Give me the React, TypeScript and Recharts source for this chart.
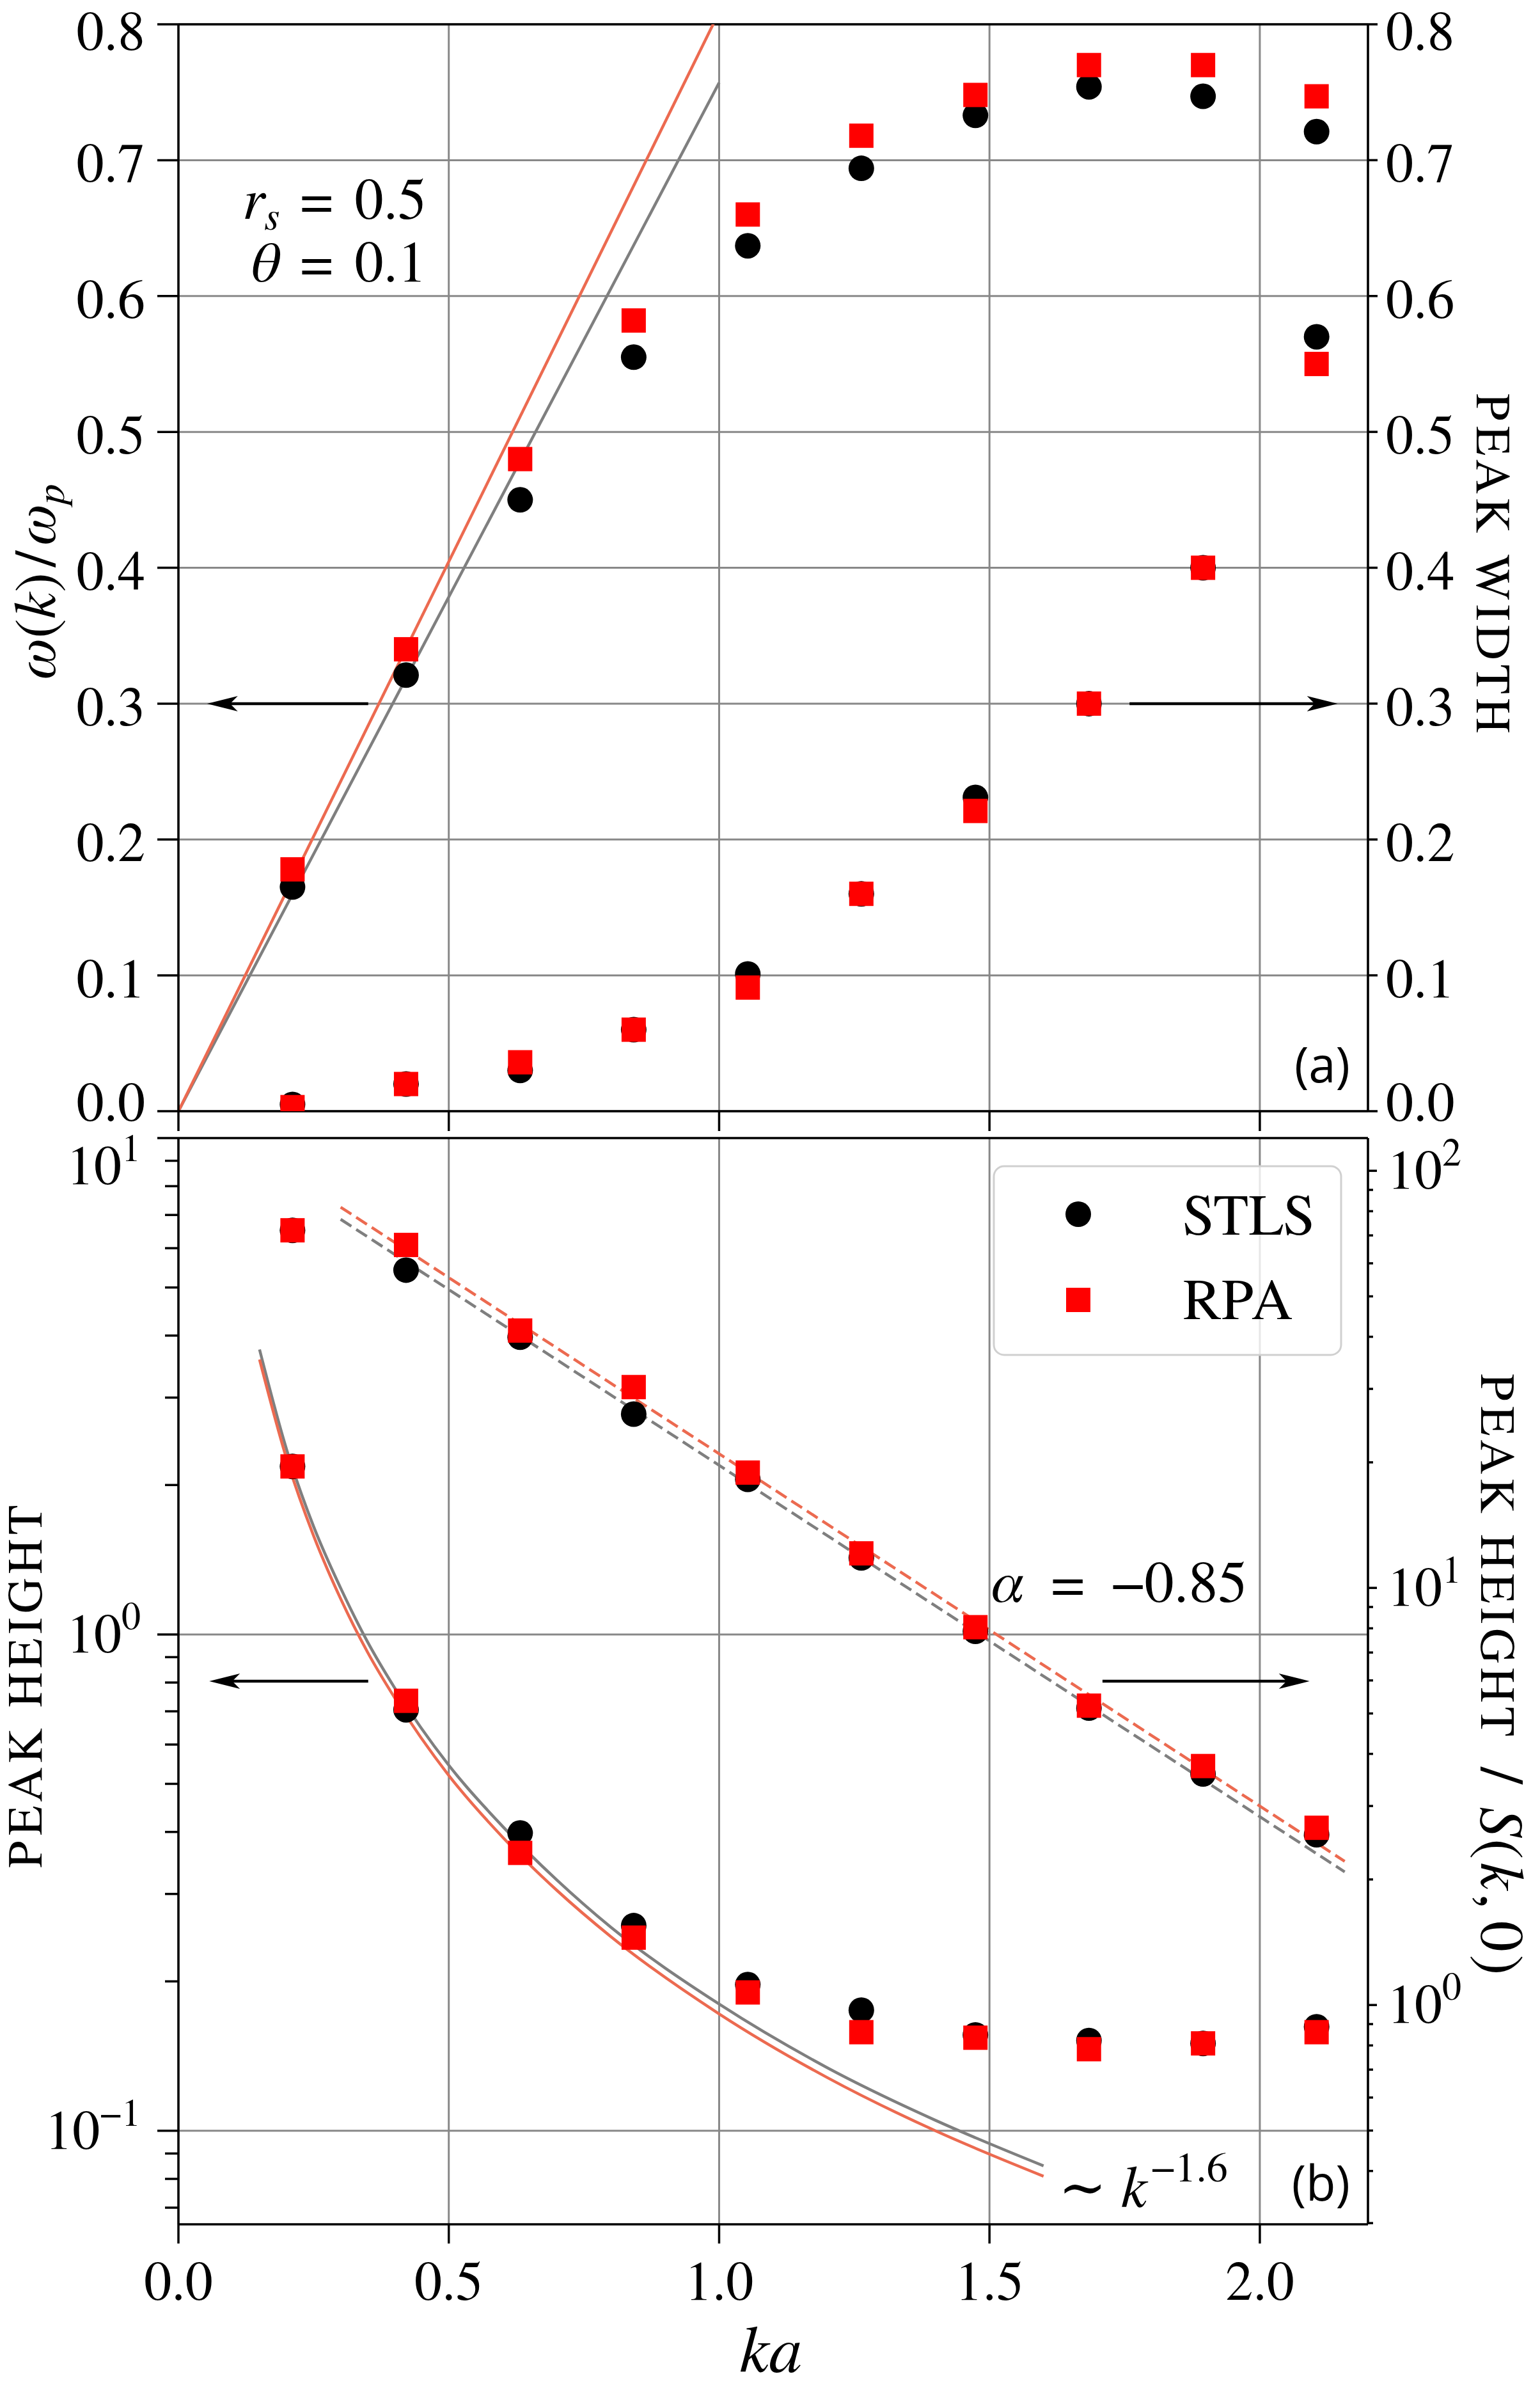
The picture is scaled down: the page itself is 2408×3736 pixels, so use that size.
import React from "react";
import {
  ComposedChart,
  Scatter,
  Line,
  XAxis,
  YAxis,
  CartesianGrid,
  ReferenceLine,
} from "recharts";

// ka of the ten simulated wave numbers (shared by all marker series)
const KA = [0.211, 0.421, 0.632, 0.842, 1.053, 1.263, 1.474, 1.684, 1.895, 2.105];

// panel (a): peak position w(k)/wp (left axis) and peak width (right axis)
const STLS_FREQ = [0.165, 0.321, 0.45, 0.555, 0.637, 0.694, 0.733, 0.754, 0.747, 0.721];
const RPA_FREQ = [0.178, 0.34, 0.48, 0.582, 0.66, 0.718, 0.748, 0.77, 0.77, 0.747];
const STLS_WIDTH = [0.005, 0.02, 0.03, 0.06, 0.101, 0.16, 0.231, 0.3, 0.4, 0.57];
const RPA_WIDTH = [0.003, 0.02, 0.036, 0.06, 0.091, 0.16, 0.221, 0.3, 0.4, 0.55];

// panel (a): linear small-k dispersion
const LIN_KA = [0, 1.0];
const STLS_LIN = [0, 0.757];
const RPA_LIN = [0, 0.809];

// panel (b): peak height (left, log) and peak height / S(k,0) (right, log)
const STLS_HEIGHT = [2.18, 0.705, 0.398, 0.259, 0.197, 0.175, 0.156, 0.152, 0.15, 0.162];
const RPA_HEIGHT = [2.18, 0.735, 0.363, 0.245, 0.19, 0.158, 0.154, 0.146, 0.15, 0.158];
const STLS_RATIO = [72, 57.8, 39.9, 26.1, 18.2, 11.8, 7.87, 5.15, 3.58, 2.56];
const RPA_RATIO = [72, 66.4, 41.4, 30.3, 18.9, 12.1, 8.05, 5.22, 3.74, 2.66];

// panel (b): ~k^-1.6 curves
const POW_KA = [0.15, 0.2, 0.25, 0.3, 0.35, 0.4, 0.5, 0.6, 0.7, 0.8, 1.0, 1.2, 1.4, 1.6];
const STLS_POW = [3.75, 2.36, 1.65, 1.24, 0.965, 0.78, 0.545, 0.41, 0.32, 0.257, 0.18, 0.134, 0.105, 0.085];
const RPA_POW = [3.58, 2.26, 1.58, 1.18, 0.92, 0.745, 0.52, 0.39, 0.305, 0.246, 0.172, 0.128, 0.1, 0.081];

// panel (b): alpha = -0.85 dashed fits (right axis)
const EXP_KA = [0.3, 2.157];
const STLS_EXP = [76.5, 2.085];
const RPA_EXP = [81.8, 2.21];

// arrows pointing to the axis each set belongs to
const ARROW_A_LEFT = { from: 0.351, to: 0.053, y: 0.3 };
const ARROW_A_RIGHT = { from: 1.759, to: 2.144, y: 0.3 };
const ARROW_B_LEFT = { from: 0.351, to: 0.057, y: 0.805 };
const ARROW_B_RIGHT = { from: 1.709, to: 2.092, y: 0.805 };

const X_TICKS = [0, 0.5, 1.0, 1.5, 2.0];
const LIN_TICKS = [0, 0.1, 0.2, 0.3, 0.4, 0.5, 0.6, 0.7, 0.8];
const LOG_L_TICKS = [
  0.07, 0.08, 0.09, 0.1, 0.2, 0.3, 0.4, 0.5, 0.6, 0.7, 0.8, 0.9, 1, 2, 3, 4, 5, 6, 7, 8, 9, 10,
];
const LOG_R_TICKS = [
  0.3, 0.4, 0.5, 0.6, 0.7, 0.8, 0.9, 1, 2, 3, 4, 5, 6, 7, 8, 9, 10, 20, 30, 40, 50, 60, 70, 80, 90, 100,
];

const SERIF = "FreeSerif";
const SANS = "Open Sans";
const INK = "#000000";
const GRID = "#888888";
const GREY = "#7f7f7f";
const TOMATO = "#ec6a50";
const RED = "#ff0000";

const W = 2408;
const H = 3736;

type Pt = { k: number; v: number };
const pts = (xs: number[], ys: number[]): Pt[] => xs.map((k, i) => ({ k, v: ys[i] }));

const isDecade = (v: number) => Math.abs(Math.log10(v) - Math.round(Math.log10(v))) < 1e-9;

// matplotlib nudged the end labels of the linear axes a little
const linLabelDy = (v: number) => (v >= 0.8 ? 40 : v <= 0 ? 15 : 34);

function YTick(props: any) {
  const { x, y, payload, side, log, majorLen, minorLen, gap } = props;
  const v = payload.value as number;
  const major = !log || isDecade(v);
  const len = major ? majorLen : minorLen;
  const dir = side === "left" ? -1 : 1;
  const anchor = side === "left" ? "end" : "start";
  let label = null;
  if (major && log) {
    const e = Math.round(Math.log10(v));
    const shift = side === "left" && e === 1 ? 44 : 0;
    label = (
      <text x={x + dir * (gap + (side === "left" ? 7 : 2))} y={y + 28 + shift} textAnchor={anchor}
        fontFamily={SERIF} fontSize={86} fill={INK}>
        10<tspan fontSize={60} dy={-36}>{e < 0 ? "\u2212" + -e : String(e)}</tspan>
      </text>
    );
  } else if (major) {
    label = (
      <text x={x + dir * gap} y={y + linLabelDy(v)} textAnchor={anchor} fontFamily={SERIF} fontSize={86} fill={INK}>
        {v.toFixed(1)}
      </text>
    );
  }
  return (
    <g>
      <line x1={x} x2={x + dir * len} y1={y} y2={y} stroke={INK} strokeWidth={3.5} />
      {label}
    </g>
  );
}

function XTick(props: any) {
  const { x, y, payload, len, labels } = props;
  return (
    <g>
      <line x1={x} x2={x} y1={y} y2={y + len} stroke={INK} strokeWidth={3.5} />
      {labels && (
        <text x={x} y={y + 118} textAnchor="middle" fontFamily={SERIF} fontSize={86} fill={INK}>
          {(payload.value as number).toFixed(1)}
        </text>
      )}
    </g>
  );
}

function Arrow(props: any) {
  const { x1, y1, x2, y2 } = props;
  const dir = Math.sign(x2 - x1);
  const head = 48;
  const half = 12;
  return (
    <g>
      <line x1={x1} y1={y1} x2={x2 - dir * head * 0.6} y2={y2} stroke={INK} strokeWidth={4.5} />
      <polygon
        points={`${x2},${y2} ${x2 - dir * head},${y2 - half} ${x2 - dir * head * 0.75},${y2} ${x2 - dir * head},${y2 + half}`}
        fill={INK}
      />
    </g>
  );
}

const Disc = (p: any) => <circle cx={p.cx} cy={p.cy} r={20} fill={INK} />;
const Block = (p: any) => <rect x={p.cx - 19} y={p.cy - 19} width={38} height={38} fill={RED} />;

function arrowSegment(a: { from: number; to: number; y: number }) {
  return [
    { x: a.from, y: a.y },
    { x: a.to, y: a.y },
  ];
}

function TopPanel() {
  return (
    <ComposedChart width={W} height={1800} margin={{ top: 38, right: 0, bottom: 0, left: 0 }}>
      <CartesianGrid stroke={GRID} strokeWidth={3} yAxisId="l" />
      <XAxis
        dataKey="k"
        type="number"
        domain={[0, 2.2]}
        ticks={X_TICKS}
        allowDataOverflow
        interval={0}
        height={63}
        tickSize={0}
        tickMargin={0}
        tickLine={false}
        axisLine={{ stroke: INK, strokeWidth: 3.5 }}
        tick={(p: any) => <XTick {...p} len={31} labels={false} />}
      />
      <YAxis
        yAxisId="l"
        orientation="left"
        dataKey="v"
        type="number"
        domain={[0, 0.8]}
        ticks={LIN_TICKS}
        allowDataOverflow
        interval={0}
        width={279}
        tickSize={0}
        tickMargin={0}
        tickLine={false}
        axisLine={{ stroke: INK, strokeWidth: 3.5 }}
        tick={(p: any) => <YTick {...p} side="left" majorLen={33} minorLen={20} gap={52} />}
      />
      <YAxis
        yAxisId="r"
        orientation="right"
        dataKey="v"
        type="number"
        domain={[0, 0.8]}
        ticks={LIN_TICKS}
        allowDataOverflow
        interval={0}
        width={269}
        tickSize={0}
        tickMargin={0}
        tickLine={false}
        axisLine={{ stroke: INK, strokeWidth: 3.5 }}
        tick={(p: any) => <YTick {...p} side="right" majorLen={15} minorLen={8} gap={28} />}
      />
      <ReferenceLine yAxisId="l" y={0.8} stroke={INK} strokeWidth={3.5} />
      <Line data={pts(LIN_KA, STLS_LIN)} dataKey="v" yAxisId="l" type="linear" stroke={GREY}
        strokeWidth={4.5} dot={false} activeDot={false} isAnimationActive={false} />
      <Line data={pts(LIN_KA, RPA_LIN)} dataKey="v" yAxisId="l" type="linear" stroke={TOMATO}
        strokeWidth={4.5} dot={false} activeDot={false} isAnimationActive={false} />
      <Scatter data={pts(KA, STLS_FREQ)} yAxisId="l" shape={Disc} isAnimationActive={false} />
      <Scatter data={pts(KA, STLS_WIDTH)} yAxisId="r" shape={Disc} isAnimationActive={false} />
      <Scatter data={pts(KA, RPA_FREQ)} yAxisId="l" shape={Block} isAnimationActive={false} />
      <Scatter data={pts(KA, RPA_WIDTH)} yAxisId="r" shape={Block} isAnimationActive={false} />
      <ReferenceLine yAxisId="l" segment={arrowSegment(ARROW_A_LEFT)} shape={Arrow} />
      <ReferenceLine yAxisId="r" segment={arrowSegment(ARROW_A_RIGHT)} shape={Arrow} />
    </ComposedChart>
  );
}

function BottomPanel() {
  return (
    <ComposedChart width={W} height={1991} margin={{ top: 34, right: 0, bottom: 0, left: 0 }}>
      <CartesianGrid stroke={GRID} strokeWidth={3} horizontal={false} />
      <ReferenceLine yAxisId="l" y={1} stroke={GRID} strokeWidth={3} />
      <ReferenceLine yAxisId="l" y={0.1} stroke={GRID} strokeWidth={3} />
      <XAxis
        dataKey="k"
        type="number"
        domain={[0, 2.2]}
        ticks={X_TICKS}
        allowDataOverflow
        interval={0}
        height={259}
        tickSize={0}
        tickMargin={0}
        tickLine={false}
        axisLine={{ stroke: INK, strokeWidth: 3.5 }}
        tick={(p: any) => <XTick {...p} len={30} labels />}
      />
      <YAxis
        yAxisId="l"
        orientation="left"
        dataKey="v"
        type="number"
        scale="log"
        domain={[0.0648, 10]}
        ticks={LOG_L_TICKS}
        allowDataOverflow
        interval={0}
        width={279}
        tickSize={0}
        tickMargin={0}
        tickLine={false}
        axisLine={{ stroke: INK, strokeWidth: 3.5 }}
        tick={(p: any) => <YTick {...p} side="left" log majorLen={33} minorLen={21} gap={52} />}
      />
      <YAxis
        yAxisId="r"
        orientation="right"
        dataKey="v"
        type="number"
        scale="log"
        domain={[0.298, 119.8]}
        ticks={LOG_R_TICKS}
        allowDataOverflow
        interval={0}
        width={269}
        tickSize={0}
        tickMargin={0}
        tickLine={false}
        axisLine={{ stroke: INK, strokeWidth: 3.5 }}
        tick={(p: any) => <YTick {...p} side="right" log majorLen={14} minorLen={8} gap={28} />}
      />
      <ReferenceLine yAxisId="l" y={10} stroke={INK} strokeWidth={3.5} />
      <Line data={pts(POW_KA, STLS_POW)} dataKey="v" yAxisId="l" type="monotone" stroke={GREY}
        strokeWidth={4.5} dot={false} activeDot={false} isAnimationActive={false} />
      <Line data={pts(POW_KA, RPA_POW)} dataKey="v" yAxisId="l" type="monotone" stroke={TOMATO}
        strokeWidth={4.5} dot={false} activeDot={false} isAnimationActive={false} />
      <Line data={pts(EXP_KA, STLS_EXP)} dataKey="v" yAxisId="r" type="linear" stroke={GREY}
        strokeWidth={4.5} strokeDasharray="20 9" dot={false} activeDot={false} isAnimationActive={false} />
      <Line data={pts(EXP_KA, RPA_EXP)} dataKey="v" yAxisId="r" type="linear" stroke={TOMATO}
        strokeWidth={4.5} strokeDasharray="20 9" dot={false} activeDot={false} isAnimationActive={false} />
      <Scatter data={pts(KA, STLS_HEIGHT)} yAxisId="l" shape={Disc} isAnimationActive={false} />
      <Scatter data={pts(KA, STLS_RATIO)} yAxisId="r" shape={Disc} isAnimationActive={false} />
      <Scatter data={pts(KA, RPA_HEIGHT)} yAxisId="l" shape={Block} isAnimationActive={false} />
      <Scatter data={pts(KA, RPA_RATIO)} yAxisId="r" shape={Block} isAnimationActive={false} />
      <ReferenceLine yAxisId="l" segment={arrowSegment(ARROW_B_LEFT)} shape={Arrow} />
      <ReferenceLine yAxisId="l" segment={arrowSegment(ARROW_B_RIGHT)} shape={Arrow} />
    </ComposedChart>
  );
}

function Annotations() {
  const t = { fontFamily: SERIF, fill: INK };
  return (
    <svg width={W} height={H} style={{ position: "absolute", left: 0, top: 0, pointerEvents: "none" }}>
      {/* axis titles */}
      <text {...t} x={86} y={910} fontSize={92} textAnchor="middle" transform="rotate(-90 86 910)">
        <tspan fontStyle="italic">ω</tspan>(<tspan fontStyle="italic">k</tspan>)<tspan dx={8}>/</tspan>
        <tspan fontStyle="italic" dx={8}>ω</tspan>
        <tspan fontStyle="italic" fontSize={64} dy={14}>p</tspan>
      </text>
      <text {...t} x={2309} y={884} fontSize={76} letterSpacing={7} textAnchor="middle" transform="rotate(90 2309 884)">
        PEAK WIDTH
      </text>
      <text {...t} x={65} y={2633} fontSize={76} letterSpacing={7} textAnchor="middle" transform="rotate(-90 65 2633)">
        PEAK HEIGHT
      </text>
      <text {...t} x={2316} y={2620} fontSize={76} textAnchor="middle" transform="rotate(90 2316 2620)">
        <tspan letterSpacing={7}>PEAK HEIGHT</tspan>
        <tspan dx={40} fontSize={96}>/</tspan>
        <tspan dx={36} fontSize={96} fontStyle="italic" letterSpacing={5}>S</tspan>
        <tspan fontSize={96} letterSpacing={5}>(</tspan>
        <tspan fontSize={96} fontStyle="italic" letterSpacing={5}>k</tspan>
        <tspan fontSize={96} letterSpacing={5}>,</tspan>
        <tspan fontSize={96} dx={14} letterSpacing={5}>0)</tspan>
      </text>
      <text {...t} x={1205} y={3708} fontSize={104} fontStyle="italic" textAnchor="middle">ka</text>

      {/* parameters */}
      <text {...t} x={667} y={342} fontSize={90} textAnchor="end">
        <tspan fontStyle="italic">r</tspan>
        <tspan fontStyle="italic" fontSize={62} dy={17}>s</tspan>
        <tspan dy={-17} dx={34}>=</tspan>
        <tspan dx={34}>0.5</tspan>
      </text>
      <text {...t} x={667} y={440} fontSize={90} textAnchor="end">
        <tspan fontStyle="italic">θ</tspan>
        <tspan dx={34}>=</tspan>
        <tspan dx={34}>0.1</tspan>
      </text>

      {/* fit annotations */}
      <text {...t} x={1550} y={2504} fontSize={92}>
        <tspan fontStyle="italic">α</tspan>
        <tspan dx={42}>=</tspan>
        <tspan dx={42}>−0.85</tspan>
      </text>
      <text {...t} x={1655} y={3450} fontSize={92}>
        <tspan fontFamily="DejaVu Serif" fontSize={90}>∼</tspan>
        <tspan dx={22} fontStyle="italic">k</tspan>
        <tspan fontSize={66} dy={-40} dx={6}>−1.6</tspan>
      </text>

      {/* panel tags */}
      <text x={2111} y={1692} fontFamily={SANS} fontSize={76} fill={INK} textAnchor="end">(a)</text>
      <text x={2111} y={3440} fontFamily={SANS} fontSize={76} fill={INK} textAnchor="end">(b)</text>

      {/* legend */}
      <rect x={1554} y={1823} width={543} height={295} rx={16} fill="#ffffff" fillOpacity={0.8}
        stroke="#d0d0d0" strokeWidth={3} />
      <circle cx={1686} cy={1898} r={20} fill={INK} />
      <rect x={1667} y={2013} width={38} height={38} fill={RED} />
      <text {...t} x={1850} y={1930} fontSize={90}>STLS</text>
      <text {...t} x={1850} y={2062} fontSize={90}>RPA</text>
    </svg>
  );
}

export default function App() {
  return (
    <div style={{ position: "absolute", left: 0, top: 0, width: W, height: H, background: "#ffffff" }}>
      <div style={{ position: "absolute", left: 0, top: 0 }}>
        <TopPanel />
      </div>
      <div style={{ position: "absolute", left: 0, top: 1745 }}>
        <BottomPanel />
      </div>
      <Annotations />
    </div>
  );
}
